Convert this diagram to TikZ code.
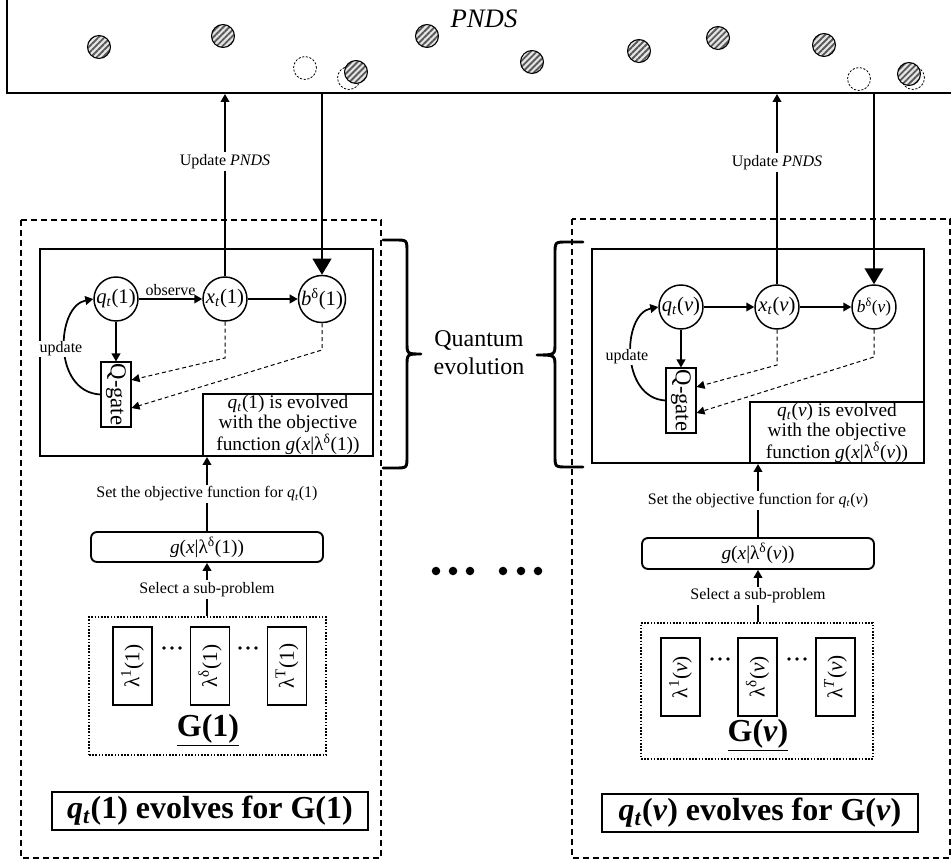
\documentclass[tikz,border=0pt]{standalone}
\usepackage{fontspec}
\usepackage{graphicx}
\setmainfont{Liberation Serif}
\usetikzlibrary{arrows.meta,patterns.meta}

% symbols used in the labels
\newcommand\myq{\textit{q}\textsubscript{\textit{t}}}
\newcommand\myx{\textit{x}\textsubscript{\textit{t}}}
\newcommand\myb{\textit{b}\textsuperscript{δ}}
\newcommand\myg[1]{\textit{g}(\textit{x}|λ\textsuperscript{δ}(#1))}
\newcommand\fs[2]{\fontsize{#1}{#2}\selectfont}

\tikzset{
  frame/.style={draw, line width=1.5pt, inner sep=0pt},
  module/.style={draw, line width=1.1pt, dash pattern=on 4.5pt off 3pt},
  state/.style={circle, draw, line width=1.1pt, minimum size=33pt, inner sep=0pt, font=\fs{15.5}{15.5}},
  gatebox/.style={draw, line width=0.8pt, minimum width=22.5pt, minimum height=48.75pt, inner sep=0pt, font=\fs{17}{17}},
  notebox/.style={draw, line width=0.8pt, inner sep=0pt, align=center, font=\fs{14.5}{15}},
  objbox/.style={draw, line width=1.4pt, rounded corners=4.5pt, minimum width=174pt, inner sep=0pt, font=\fs{14.5}{15}},
  groupbox/.style={draw, line width=1.2pt, dash pattern=on 1.2pt off 1.2pt, inner sep=0pt},
  lambox/.style={draw, line width=0.8pt, minimum width=29.25pt, minimum height=58.5pt, inner sep=0pt, font=\fs{16}{16}},
  titlebox/.style={draw, line width=0.8pt, minimum width=237pt, minimum height=28.5pt, inner sep=0pt, font=\fs{24}{24}\bfseries},
  lab/.style={fill=white, inner sep=1.5pt, font=\fs{12}{12}},
  arr/.style={line width=1.3pt, -{Triangle[length=6pt,width=6.5pt]}},
  bigarr/.style={line width=1.3pt, -{Triangle[length=12pt,width=14pt]}},
  dasharr/.style={line width=0.75pt, dash pattern=on 3pt off 2.2pt, -{Triangle[length=6pt,width=6pt]}},
  hatch/.style={pattern={Lines[angle=45,distance=3.2pt,line width=1.4pt]}, pattern color=black!65},
  ghost/.style={draw, line width=0.6pt, dash pattern=on 1.6pt off 1.2pt},
  brace/.style={line width=2.2pt, line cap=round, line join=round},
}

\begin{document}
\begin{tikzpicture}[x=0.75pt, y=-0.75pt]
\useasboundingbox (0,0) rectangle (951,866);
\clip (0,0) rectangle (951,866);

% ---------- population of non-dominated solutions ----------
\node[frame, minimum width=722.25pt, minimum height=84.75pt] (pnds) at (488.5,36.5) {};
\node[font=\fs{20}{20}\itshape] (pndstitle) at (484,19) {PNDS};

\foreach \cx/\cy in {305/68, 349/78, 859/79, 913/78}
  \draw[ghost] (\cx,\cy) circle[radius=8.6pt];
\foreach \cx/\cy in {99/47, 223/36, 427/36, 356/72, 532/62, 639/51, 718/38, 824/45, 909/74}{
  \fill[gray!20] (\cx,\cy) circle[radius=8.6pt];
  \path[hatch] (\cx,\cy) circle[radius=8.6pt];
  \draw[line width=0.8pt] (\cx,\cy) circle[radius=8.6pt];
}

% ---------- module for G(1) ----------
\draw[module] (21,220) rectangle (381,858);
\node[frame, minimum width=249.75pt, minimum height=155.25pt] (innerL) at (206.5,352.5) {};

\node[state] (qL) at (116,299) {\myq(1)};
\node[state] (xL) at (225,299) {\myx(1)};
\node[state] (bL) at (322,299) {\myb(1)};
\node[gatebox] (gateL) at (116,394.5) {\rotatebox{-90}{Q-gate}};
\node[notebox, minimum width=127.5pt, minimum height=46.5pt] (noteL) at (288,425)
  {\myq(1) is evolved\\with the objective\\function \myg{1}};

\draw[arr] (qL) -- node[above, inner sep=2pt, font=\fs{12}{12}] {observe} (xL);
\draw[arr] (xL) -- (bL);
\draw[arr] (qL) -- (gateL);
\draw[arr] (xL) -- node[lab, pos=0.63] {Update \textit{PNDS}} (xL |- pnds.south);
\draw[bigarr] (bL |- pnds.south) -- (bL);
\draw[dasharr] (xL.south) -- (225,358) -- (gateL.east |- 0,380);
\draw[dasharr] (bL.south) -- (322,350) -- (gateL.east |- 0,408);
\draw[arr] (gateL.west) .. controls (52,392) and (56,306) .. (qL.west);
\node[lab, inner sep=0.5pt] (updL) at (61,349) {update};

\node[objbox, minimum height=22.5pt] (gL) at (207,547) {\myg{1}};
\node[groupbox, minimum width=177.75pt, minimum height=103.5pt] (grpL) at (207.5,686) {};
\node[lambox] (l1L) at (132.5,666) {\rotatebox{90}{λ\textsuperscript{1}(1)}};
\node[lambox] (ldL) at (210,666) {\rotatebox{90}{λ\textsuperscript{δ}(1)}};
\node[lambox] (lTL) at (287,666) {\rotatebox{90}{λ\textsuperscript{T}(1)}};
\foreach \dx in {164,172,180,240,248,256}
  \fill (\dx,648) circle[radius=1.4pt];
\node[font=\fs{24}{24}\bfseries] (nameL) at (208,730) {\underline{G(1)}};
\draw[arr] (gL.north) -- node[lab] {Set the objective function for \myq(1)} (gL.north |- innerL.south);
\draw[arr] (gL.south |- grpL.north) -- node[lab] {Select a sub-problem} (gL.south);
\node[titlebox] (titleL) at (210,811) {\textit{q}\textsubscript{\textit{t}}(1) evolves for G(1)};

% ---------- module for G(v) ----------
\draw[module] (572,219) rectangle (950,858);
\node[frame, minimum width=249pt, minimum height=160.5pt] (innerR) at (758,356) {};

\node[state] (qR) at (681,307) {\myq(\textit{v})};
\node[state] (xR) at (777,307) {\myx(\textit{v})};
\node[state, font=\fs{13}{13}] (bR) at (874,307) {\myb(\textit{v})};
\node[gatebox] (gateR) at (681,400.5) {\rotatebox{-90}{Q-gate}};
\node[notebox, minimum width=130.5pt, minimum height=45.75pt] (noteR) at (837,432.5)
  {\myq(\textit{v}) is evolved\\with the objective\\function \myg{\textit{v}}};

\draw[arr] (qR) -- (xR);
\draw[arr] (xR) -- (bR);
\draw[arr] (qR) -- (gateR);
\draw[arr] (xR) -- node[lab, pos=0.64] {Update \textit{PNDS}} (xR |- pnds.south);
\draw[bigarr] (bR |- pnds.south) -- (bR);
\draw[dasharr] (xR.south) -- (777,365) -- (gateR.east |- 0,387);
\draw[dasharr] (bR.south) -- (874,357) -- (gateR.east |- 0,413);
\draw[arr] (gateR.west) .. controls (620,398) and (622,314) .. (qR.west);
\node[lab, inner sep=0.5pt] (updR) at (627,357) {update};

\node[objbox, minimum height=23.25pt] (gR) at (758,553.5) {\myg{\textit{v}}};
\node[groupbox, minimum width=174pt, minimum height=102pt] (grpR) at (757,691) {};
\node[lambox] (l1R) at (680.5,677) {\rotatebox{90}{λ\textsuperscript{1}(\textit{v})}};
\node[lambox] (ldR) at (757.5,677) {\rotatebox{90}{λ\textsuperscript{δ}(\textit{v})}};
\node[lambox] (lTR) at (835.5,677) {\rotatebox{90}{λ\textsuperscript{\textit{T}}(\textit{v})}};
\foreach \dx in {712,720,728,789,797,805}
  \fill (\dx,659) circle[radius=1.4pt];
\node[font=\fs{24}{24}\bfseries] (nameR) at (758,735) {\underline{G(\textit{v})}};
\draw[arr] (gR.north) -- node[lab] {Set the objective function for \myq(\textit{v})} (gR.north |- innerR.south);
\draw[arr] (gR.south |- grpR.north) -- node[lab] {Select a sub-problem} (gR.south);
\node[titlebox] (titleR) at (760,813) {\textit{q}\textsubscript{\textit{t}}(\textit{v}) evolves for G(\textit{v})};

% ---------- braces and shared label ----------
\draw[brace] (383,240) -- (395,240) .. controls (407,240) .. (407,252) -- (407,342)
  .. controls (407,354) .. (421,354) .. controls (407,354) .. (407,366) -- (407,456)
  .. controls (407,468) .. (395,468) -- (383,468);
\draw[brace] (583,242) -- (567,242) .. controls (555,242) .. (555,254) -- (555,343)
  .. controls (555,355) .. (537,355) .. controls (555,355) .. (555,367) -- (555,455)
  .. controls (555,467) .. (567,467) -- (583,467);
\node[align=center, font=\fs{18}{21}] (quantum) at (479,353) {Quantum\\evolution};

\foreach \dx in {436,453,470,503,521,538}
  \fill (\dx,571) circle[radius=3.2pt];
\end{tikzpicture}
\end{document}
